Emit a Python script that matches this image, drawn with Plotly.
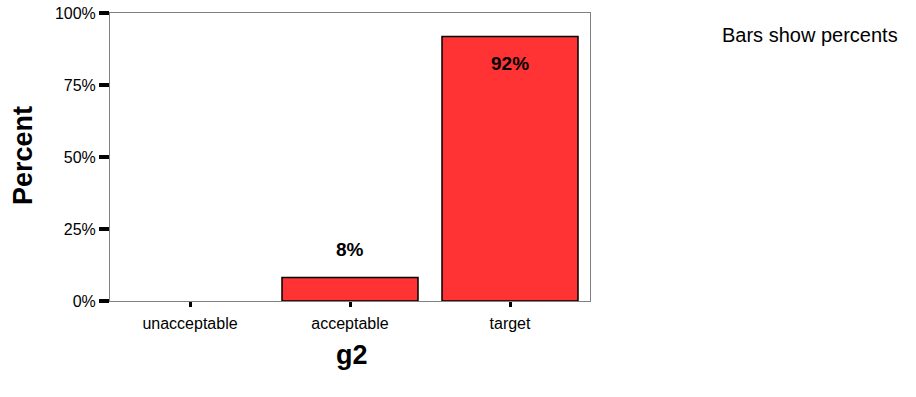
import plotly.graph_objects as go

categories = ["unacceptable", "acceptable", "target"]
percents = [0.0, 8.2, 91.8]
labels = ["", "8%", "92%"]
label_shift = [0, 28, -27]
y_ticks = [0, 25, 50, 75, 100]
y_tick_text = ["0%", "25%", "50%", "75%", "100%"]

FONT = "Arial, Liberation Sans, sans-serif"
W, H = 916, 397
L, R, T, B = 110, 326, 13, 96
pw, ph = W - L - R, H - T - B

fig = go.Figure()
fig.add_trace(go.Bar(
    x=categories, y=percents, width=0.85,
    marker=dict(color="#FF3333",
                line=dict(color="black", width=[0 if v == 0 else 1.5 for v in percents])),
    hoverinfo="skip",
))
for c, v, t, s in zip(categories, percents, labels, label_shift):
    if t:
        fig.add_annotation(x=c, y=v, text=t, showarrow=False, yshift=s,
                           yanchor="middle", xanchor="center",
                           font=dict(family=FONT, size=19, color="black", weight="bold"))

fig.update_layout(
    width=W, height=H,
    margin=dict(l=L, r=R, t=T, b=B),
    plot_bgcolor="white", paper_bgcolor="white",
    showlegend=False,
    font=dict(family=FONT, color="black"),
)
fig.update_xaxes(
    range=[-0.5, 2.5], showline=True, linecolor="#808080", linewidth=1, mirror=True,
    ticks="outside", ticklen=5, tickwidth=3, tickcolor="black",
    tickfont=dict(size=16), ticklabelstandoff=3,
    showgrid=False, automargin=False,
)
fig.update_yaxes(
    range=[0, 100], tickvals=y_ticks, ticktext=y_tick_text,
    showline=True, linecolor="#808080", linewidth=1, mirror=True,
    ticks="outside", ticklen=10, tickwidth=4, tickcolor="black",
    tickfont=dict(size=16), ticklabeloverflow="allow",
    showgrid=False, zeroline=False, automargin=False,
)
# axis titles and note placed by pixel position
def px(x):
    return (x - L) / pw
def py(y):
    return 1 - (y - T) / ph

fig.add_annotation(x=px(23), y=py(156), xref="paper", yref="paper", text="Percent",
                   textangle=-90, showarrow=False, xanchor="center", yanchor="middle",
                   font=dict(family=FONT, size=27, color="black", weight="bold"))
fig.add_annotation(x=px(352), y=py(355), xref="paper", yref="paper", text="g2",
                   showarrow=False, xanchor="center", yanchor="middle",
                   font=dict(family=FONT, size=27, color="black", weight="bold"))
fig.add_annotation(x=px(810), y=py(35), xref="paper", yref="paper", text="Bars show percents",
                   showarrow=False, xanchor="center", yanchor="middle",
                   font=dict(family=FONT, size=20, color="black"))

fig.write_html("out.html",
               config={"displayModeBar": False},
               post_script="document.body.style.margin='0';document.body.style.overflow='hidden';")
